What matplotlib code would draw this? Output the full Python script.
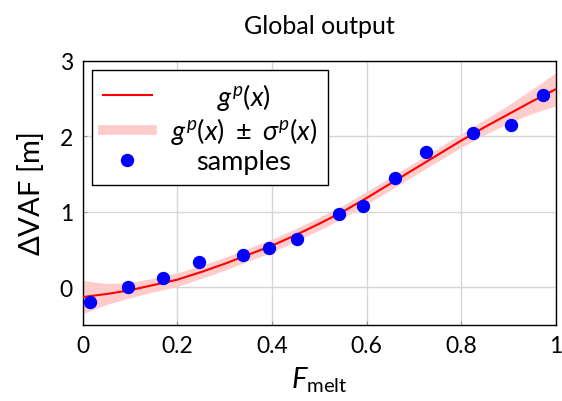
import matplotlib
matplotlib.use("Agg")
import matplotlib.pyplot as plt
import numpy as np

plt.rcParams["font.family"] = ["Lato", "DejaVu Sans"]
plt.rcParams["mathtext.fontset"] = "custom"
plt.rcParams["mathtext.rm"] = "Lato"
plt.rcParams["mathtext.it"] = "Lato:italic"
plt.rcParams["mathtext.bf"] = "Lato:bold"

# GP mean and std
x_grid = [0.00, 0.05, 0.10, 0.15, 0.20, 0.25, 0.30, 0.35, 0.40, 0.45, 0.50,
          0.55, 0.60, 0.65, 0.70, 0.75, 0.80, 0.85, 0.90, 0.95, 1.00]
g_mean = [-0.13, -0.09, -0.04, 0.03, 0.10, 0.20, 0.31, 0.43, 0.55, 0.69, 0.84,
          1.00, 1.18, 1.37, 1.56, 1.75, 1.94, 2.12, 2.29, 2.46, 2.62]
g_std = [0.22, 0.14, 0.10, 0.09, 0.09, 0.085, 0.085, 0.085, 0.085, 0.085, 0.085,
         0.085, 0.085, 0.085, 0.085, 0.085, 0.09, 0.10, 0.12, 0.16, 0.22]

# training samples
x_samples = [0.015, 0.096, 0.169, 0.246, 0.338, 0.394, 0.454, 0.541, 0.592,
             0.661, 0.726, 0.825, 0.905, 0.973]
y_samples = [-0.20, 0.00, 0.12, 0.34, 0.42, 0.52, 0.64, 0.965, 1.08,
             1.45, 1.79, 2.035, 2.15, 2.55]

x_ticks = [0, 0.2, 0.4, 0.6, 0.8, 1]
x_ticklabels = ["0", "0.2", "0.4", "0.6", "0.8", "1"]
y_ticks = [0, 1, 2, 3]

mean = np.array(g_mean)
std = np.array(g_std)

fig = plt.figure(figsize=(5.62, 4.02), dpi=100)
ax = fig.add_axes([0.147, 0.189, 0.842, 0.658])

band_color = "#ffcccc"
ax.fill_between(x_grid, mean - std, mean + std, color=band_color, lw=0, zorder=2)
ax.plot(x_grid, mean, color="red", lw=1.5, zorder=3, label=r"$g^p(x)$")
ax.plot([], [], color=band_color, lw=7,
        label=r"$g^p(x)\ \pm\ \sigma^p(x)$")
ax.plot(x_samples, y_samples, "o", color="blue", ms=8.6, zorder=4, label="samples")

ax.set_xlim(0, 1)
ax.set_ylim(-0.5, 3)
ax.set_xticks(x_ticks)
ax.set_xticklabels(x_ticklabels)
ax.set_yticks(y_ticks)
ax.tick_params(labelsize=16.5, direction="in", length=3, color="#999999", pad=7)
ax.grid(True, color="#d6d6d6", lw=1)
ax.set_axisbelow(True)
for s in ax.spines.values():
    s.set_linewidth(1)

ax.set_title("Global output", fontsize=18, pad=20)
ax.set_xlabel(r"$F_{\mathrm{melt}}$", fontsize=21, labelpad=6)
ax.set_ylabel(r"$\Delta$VAF [m]", fontsize=21, labelpad=10)

leg = ax.legend(loc="upper left", fontsize=19.5, fancybox=False, framealpha=1,
                edgecolor="black", handlelength=1.8, labelspacing=0.12,
                handletextpad=0.7, borderaxespad=0.35, borderpad=0.4)
leg.get_frame().set_linewidth(1)

# center the legend texts like the original
fig.canvas.draw()
renderer = fig.canvas.get_renderer()
widths = [t.get_window_extent(renderer).width for t in leg.get_texts()]
for t, w in zip(leg.get_texts(), widths):
    t.set_position(((max(widths) - w) / 2, 0))

fig.savefig("out.png", dpi=100)
